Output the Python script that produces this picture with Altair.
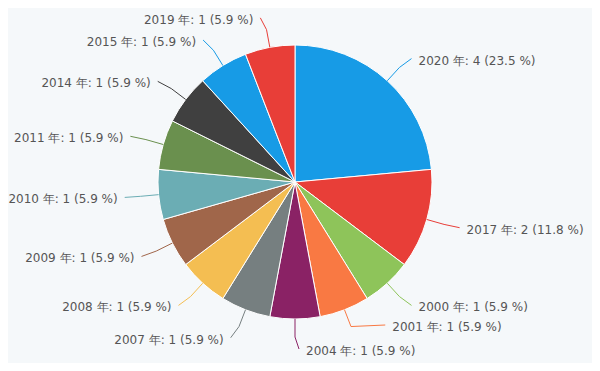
import altair as alt
import pandas as pd

years = ["2020", "2017", "2000", "2001", "2004", "2007", "2008", "2009", "2010", "2011", "2014", "2015", "2019"]
counts = [4, 2, 1, 1, 1, 1, 1, 1, 1, 1, 1, 1, 1]
colors = ["#179be6", "#e83e38", "#8ec45a", "#f97943", "#8a2265", "#767f80", "#f4be52",
          "#a0664a", "#6badb4", "#6a904e", "#404040", "#179be6", "#e83e38"]

df = pd.DataFrame({"year": years, "count": counts, "idx": list(range(len(years)))})

CX, CY, R = 287, 174, 137
RL = R + 30

color_scale = alt.Scale(domain=years, range=colors)

pie = alt.Chart(df).mark_arc(radius=R, stroke="white", strokeWidth=1).encode(
    theta=alt.Theta("count:Q", stack=True),
    order=alt.Order("idx:Q"),
    color=alt.Color("year:N", scale=color_scale, legend=None),
    x=alt.value(CX),
    y=alt.value(CY),
)

geo = alt.Chart(df).transform_joinaggregate(
    total="sum(count)"
).transform_window(
    cum="sum(count)", sort=[alt.SortField("idx")], frame=[None, 0]
).transform_calculate(
    mid="(datum.cum - datum.count / 2) / datum.total * 2 * PI",
).transform_calculate(
    side="datum.mid <= PI + 0.001 ? 1 : -1",
    ay0=f"{CY} - {RL} * cos(datum.mid)",
).transform_window(
    next_ay="lead(ay0)", next_side="lead(side)", sort=[alt.SortField("idx")]
).transform_calculate(
    ay=("datum.side > 0 && datum.next_side > 0 ? min(datum.ay0, datum.next_ay - 24) : datum.ay0"),
).transform_calculate(
    ax=f"{CX} + datum.side * sqrt(max(0, {RL * RL} - pow(datum.ay - {CY}, 2)))",
    ex=f"{CX} + {R} * sin(datum.mid)",
    ey=f"{CY} - {R} * cos(datum.mid)",
    bx=f"{CX} + {R + 18} * sin(datum.mid)",
    by=f"{CY} - {R + 18} * cos(datum.mid)",
).transform_calculate(
    cx2="datum.ax + 4 * datum.side",
    tx="datum.ax + 11 * datum.side",
    ty="datum.ay + 2",
    label="datum.year + ' 年: ' + datum.count + ' (' + format(datum.count / datum.total * 100, '.1f') + ' %)'",
)

seg1 = geo.mark_rule(strokeWidth=1).encode(
    x=alt.X("ex:Q", scale=None, axis=None),
    y=alt.Y("ey:Q", scale=None, axis=None),
    x2="bx:Q",
    y2="by:Q",
    color=alt.Color("year:N", scale=color_scale, legend=None),
)
seg2 = geo.mark_rule(strokeWidth=1).encode(
    x=alt.X("bx:Q", scale=None, axis=None),
    y=alt.Y("by:Q", scale=None, axis=None),
    x2="cx2:Q",
    y2="ay:Q",
    color=alt.Color("year:N", scale=color_scale, legend=None),
)

text_props = dict(font="DejaVu Sans", fontSize=12, color="#555555", baseline="middle")
right_labels = geo.transform_filter("datum.side > 0").mark_text(align="left", **text_props).encode(
    x=alt.X("tx:Q", scale=None, axis=None),
    y=alt.Y("ty:Q", scale=None, axis=None),
    text="label:N",
)
left_labels = geo.transform_filter("datum.side < 0").mark_text(align="right", **text_props).encode(
    x=alt.X("tx:Q", scale=None, axis=None),
    y=alt.Y("ty:Q", scale=None, axis=None),
    text="label:N",
)

chart = alt.layer(pie, seg1, seg2, right_labels, left_labels).properties(
    width=584, height=355, autosize=alt.AutoSizeParams(type="none"), padding=0,
    background="#f5f8fa",
).configure_view(stroke=None)

chart.save("out.html", embed_options={"renderer": "svg", "actions": False})
